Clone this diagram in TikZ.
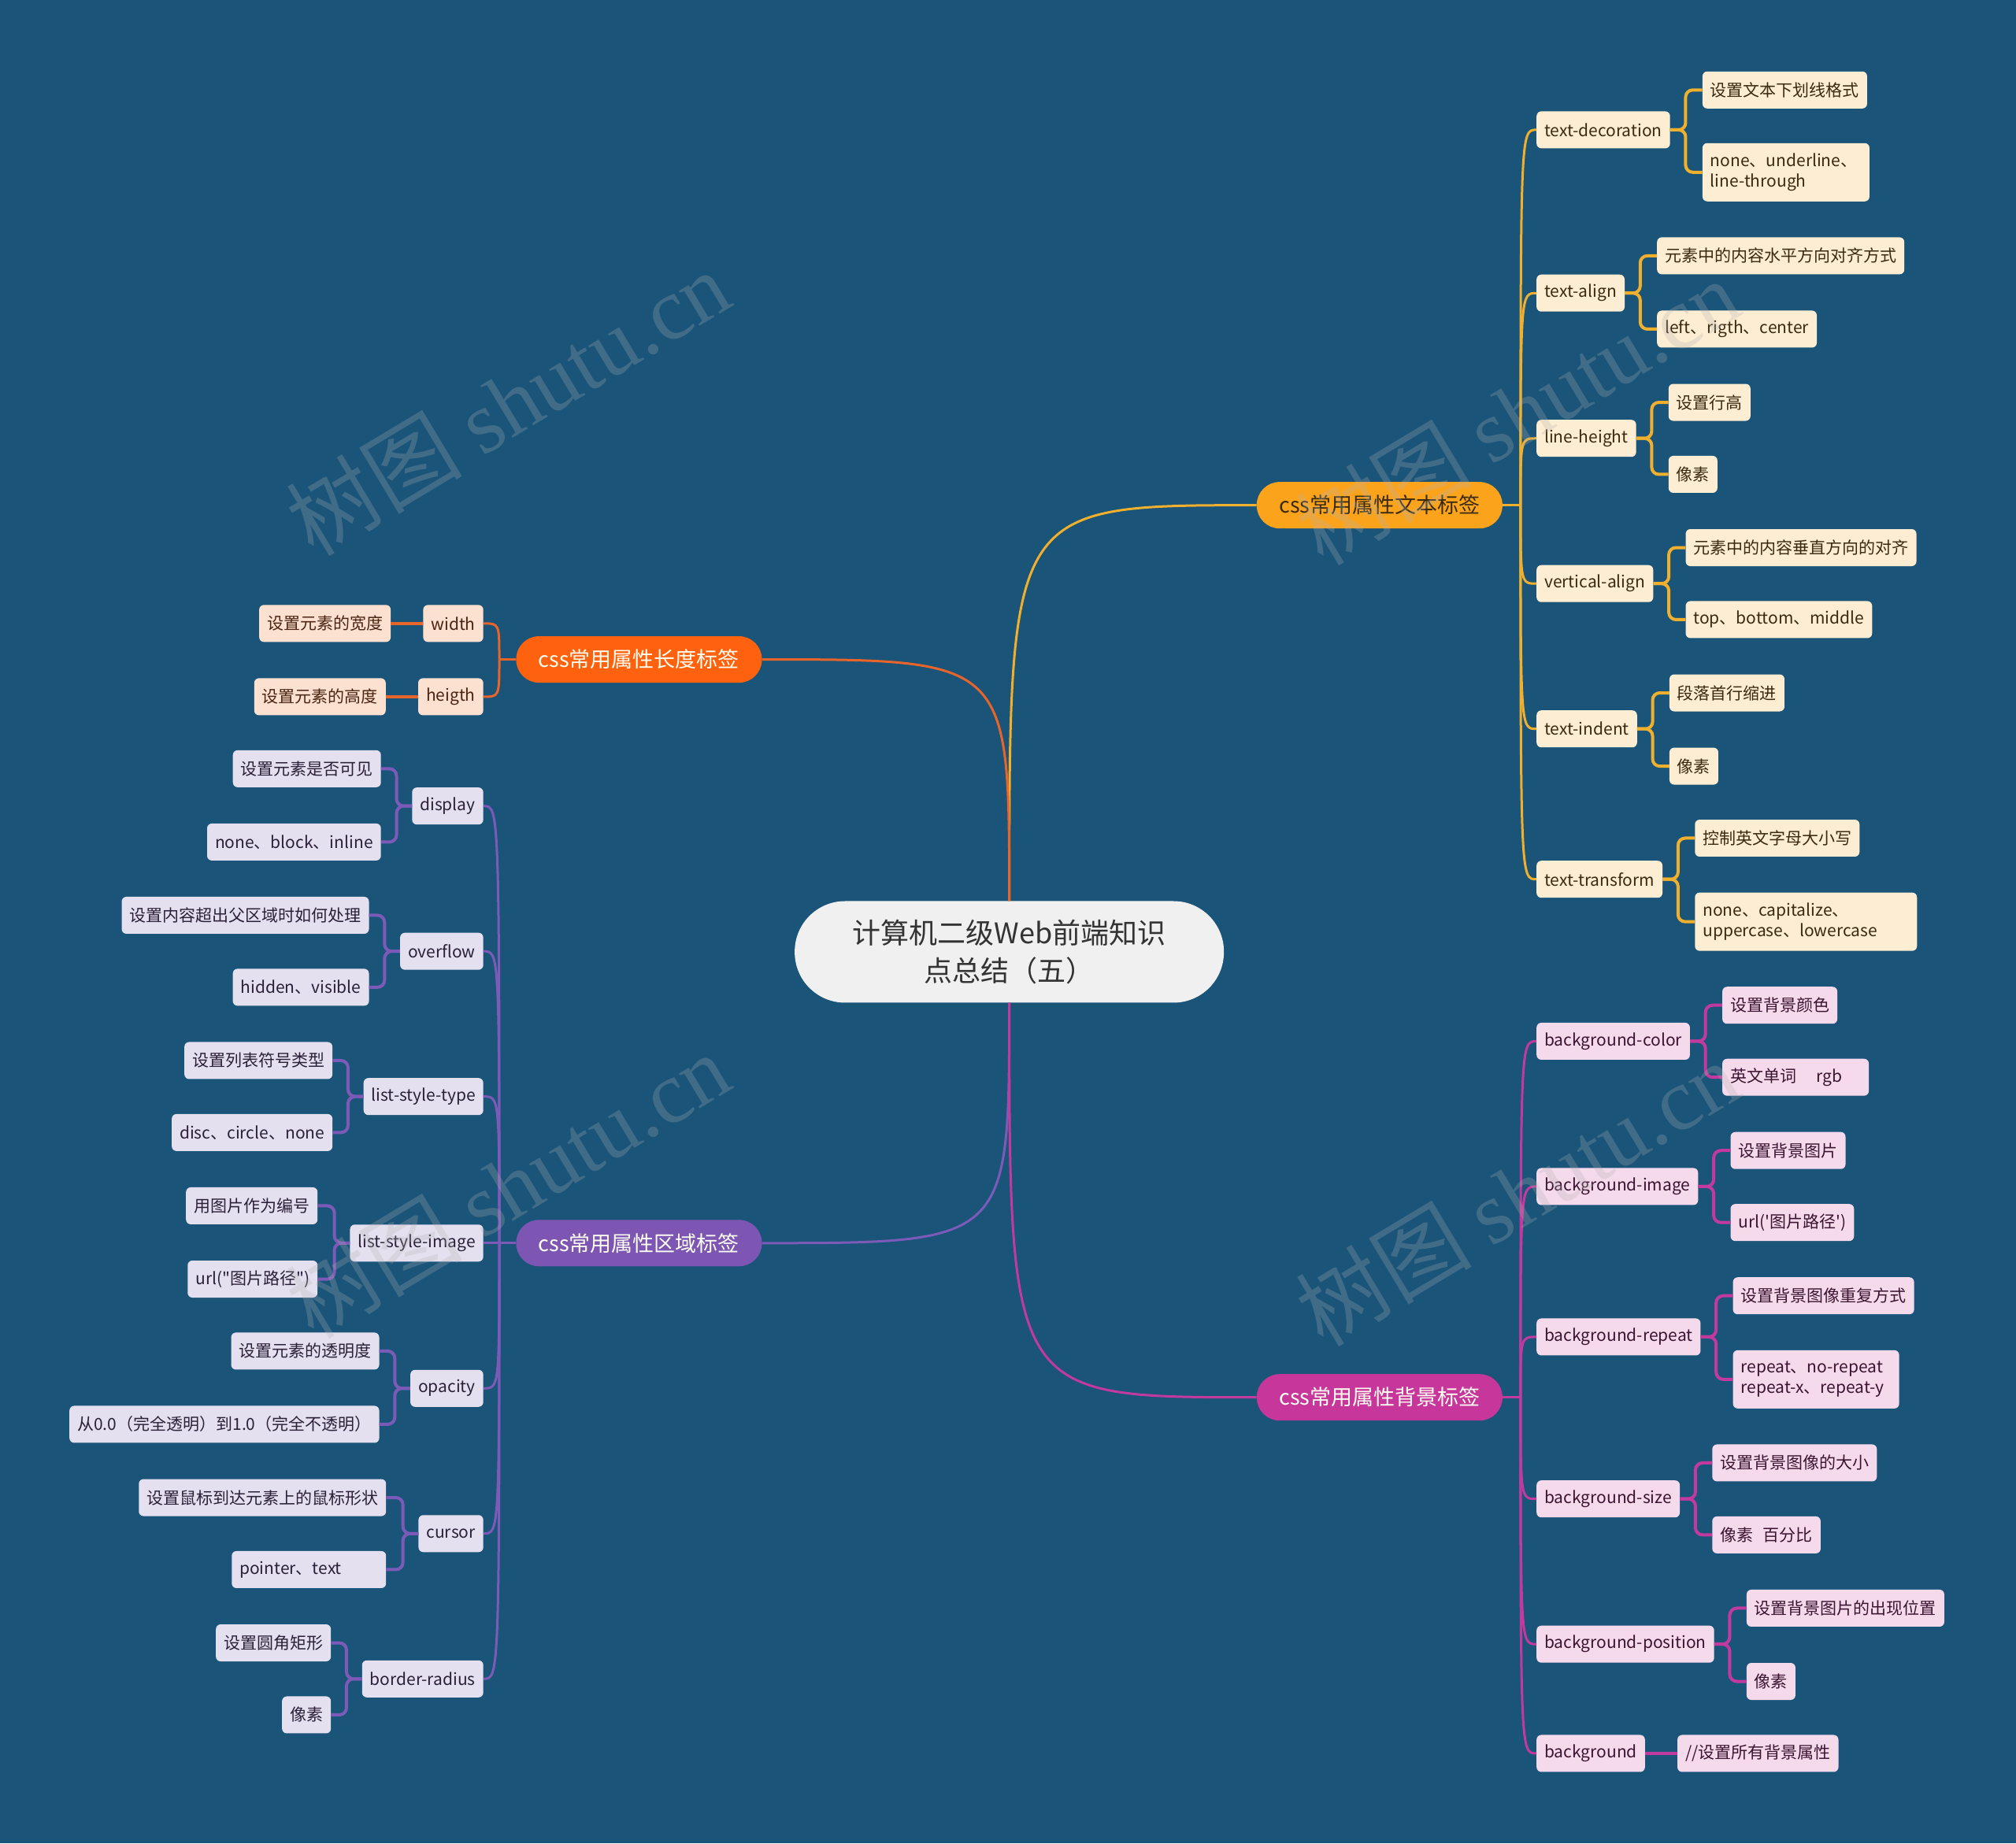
\documentclass[tikz,border=0pt]{standalone}
\usepackage{fontspec}
\setmainfont{Noto Sans CJK SC}[Ligatures=TeXOff]
\newfontfamily\wmserif{Liberation Serif}
\usetikzlibrary{calc}
\definecolor{bg}{RGB}{26,84,121}
\definecolor{yelL}{HTML}{F0B02E}
\definecolor{yelF}{HTML}{FDEDD2}
\definecolor{yelT}{HTML}{3A2A12}
\definecolor{oraL}{HTML}{E8652A}
\definecolor{oraF}{HTML}{FCE0D0}
\definecolor{oraT}{HTML}{4A2512}
\definecolor{purL}{HTML}{7C5BB8}
\definecolor{purF}{HTML}{E5E0F0}
\definecolor{purT}{HTML}{2A2038}
\definecolor{magL}{HTML}{C23A9E}
\definecolor{magF}{HTML}{F5DAEC}
\definecolor{magT}{HTML}{3A1430}
\definecolor{mainY}{HTML}{FBA41B}
\definecolor{mainO}{HTML}{FF620E}
\definecolor{mainP}{HTML}{7D55B3}
\definecolor{mainM}{HTML}{C7379B}
\tikzset{
  box/.style={rounded corners=6pt, inner xsep=10pt, inner ysep=0pt, minimum height=47pt,
    font=\fontsize{21}{26}\selectfont},
  boxtwo/.style={box, align=left, minimum height=74pt},
  yl/.style={box, fill=yelF, text=yelT},
  ol/.style={box, fill=oraF, text=oraT},
  pl/.style={box, fill=purF, text=purT},
  ml/.style={box, fill=magF, text=magT},
  pill/.style={rounded corners=29pt, minimum width=312pt, minimum height=59pt, inner sep=0pt,
    font=\fontsize{27}{32}\selectfont},
  mainlink/.style={line width=3pt},
  trunk/.style={line width=3pt},
  brk/.style={line width=4pt, rounded corners=9pt},
  wm/.style={rotate=31, text=gray!60!white, opacity=0.26, font=\fontsize{112}{120}\selectfont}
}
\begin{document}
\begin{tikzpicture}[x=1.6327pt,y=-1.6327pt]
\fill[bg] (0,0) rectangle (1568,1434);
\useasboundingbox (0,0) rectangle (1568,1434);

% ---------- center ----------
\node[fill=black!6, text=black!80, rounded corners=64pt, minimum width=545pt, minimum height=129pt,
  inner sep=0pt, align=center, font=\fontsize{36}{48}\selectfont] (c) at (785,740.5)
  {计算机二级Web前端知识\\点总结（五）};

% ---------- main branches ----------
\node[pill, fill=mainY, text=yelT] (n1) at (1073,393) {css常用属性文本标签};
\node[pill, fill=mainO, text=white!95!yellow] (n2) at (497,513) {css常用属性长度标签};
\node[pill, fill=mainP, text=white!95!yellow] (n3) at (497,967) {css常用属性区域标签};
\node[pill, fill=mainM, text=white!95!yellow] (n4) at (1073,1087) {css常用属性背景标签};

\draw[mainlink, yelL] (c.north) .. controls (c.north |- n1.west) .. (n1.west);
\draw[mainlink, oraL] (c.north) .. controls (c.north |- n2.east) .. (n2.east);
\draw[mainlink, purL] (c.south) .. controls (c.south |- n3.east) .. (n3.east);
\draw[mainlink, magL] (c.south) .. controls (c.south |- n4.west) .. (n4.west);

% ---------- text branch (right, yellow) ----------
\node[yl, anchor=west] (td) at (1195,101) {text-decoration};
\node[yl, anchor=west] (ta) at (1195,228) {text-align};
\node[yl, anchor=west] (lh) at (1195,341) {line-height};
\node[yl, anchor=west] (va) at (1195,454) {vertical-align};
\node[yl, anchor=west] (ti) at (1195,567) {text-indent};
\node[yl, anchor=west] (tt) at (1195,684) {text-transform};

\node[yl, anchor=west] (td1) at ($(td.east)+(25,-31)$) {设置文本下划线格式};
\node[yl, boxtwo, text width=192pt, anchor=west] (td2) at ($(td.east)+(25,33)$) {none、underline、\\line-through};
\node[yl, anchor=west] (ta1) at ($(ta.east)+(25,-29)$) {元素中的内容水平方向对齐方式};
\node[yl, anchor=west] (ta2) at ($(ta.east)+(25,28)$) {left、rigth、center};
\node[yl, anchor=west] (lh1) at ($(lh.east)+(25,-28)$) {设置行高};
\node[yl, anchor=west] (lh2) at ($(lh.east)+(25,28)$) {像素};
\node[yl, anchor=west] (va1) at ($(va.east)+(25,-28)$) {元素中的内容垂直方向的对齐};
\node[yl, anchor=west] (va2) at ($(va.east)+(25,28)$) {top、bottom、middle};
\node[yl, anchor=west] (ti1) at ($(ti.east)+(25,-28)$) {段落首行缩进};
\node[yl, anchor=west] (ti2) at ($(ti.east)+(25,29)$) {像素};
\node[yl, anchor=west] (tt1) at ($(tt.east)+(25,-32)$) {控制英文字母大小写};
\node[yl, boxtwo, text width=262pt, anchor=west] (tt2) at ($(tt.east)+(25,33)$) {none、capitalize、\\uppercase、lowercase};

\draw[trunk, yelL] (n1.east) -- ++(14,0) coordinate (j1);
\foreach \k in {td,ta,lh,va,ti,tt}{
  \draw[trunk, yelL] (j1) .. controls (j1 |- \k.west) .. (\k.west);
  \draw[brk, yelL] (\k.east) -- ++(12,0) |- (\k1.west);
  \draw[brk, yelL] (\k.east) -- ++(12,0) |- (\k2.west);
}

% ---------- background branch (right, magenta) ----------
\node[ml, anchor=west] (bc) at (1195,810) {background-color};
\node[ml, anchor=west] (bi) at (1195,923) {background-image};
\node[ml, anchor=west] (br) at (1195,1040) {background-repeat};
\node[ml, anchor=west] (bs) at (1195,1166) {background-size};
\node[ml, anchor=west] (bp) at (1195,1279) {background-position};
\node[ml, anchor=west] (bb) at (1195,1364) {background};

\node[ml, anchor=west] (bc1) at ($(bc.east)+(25,-28)$) {设置背景颜色};
\node[ml, anchor=west, text width=166pt, align=left] (bc2) at ($(bc.east)+(25,28)$) {英文单词\hspace{1.2em}rgb};
\node[ml, anchor=west] (bi1) at ($(bi.east)+(25,-28)$) {设置背景图片};
\node[ml, anchor=west] (bi2) at ($(bi.east)+(25,28)$) {url('图片路径')};
\node[ml, anchor=west] (br1) at ($(br.east)+(25,-32)$) {设置背景图像重复方式};
\node[ml, boxtwo, text width=191pt, anchor=west] (br2) at ($(br.east)+(25,33)$) {repeat、no-repeat\\repeat-x、repeat-y};
\node[ml, anchor=west] (bs1) at ($(bs.east)+(25,-28)$) {设置背景图像的大小};
\node[ml, anchor=west] (bs2) at ($(bs.east)+(25,28)$) {像素\hspace{0.6em}百分比};
\node[ml, anchor=west] (bp1) at ($(bp.east)+(25,-28)$) {设置背景图片的出现位置};
\node[ml, anchor=west] (bp2) at ($(bp.east)+(25,29)$) {像素};
\node[ml, anchor=west] (bb1) at ($(bb.east)+(25,0)$) {//设置所有背景属性};

\draw[trunk, magL] (n4.east) -- ++(14,0) coordinate (j4);
\foreach \k in {bc,bi,br,bs,bp,bb}{
  \draw[trunk, magL] (j4) .. controls (j4 |- \k.west) .. (\k.west);
}
\foreach \k in {bc,bi,br,bs,bp}{
  \draw[brk, magL] (\k.east) -- ++(12,0) |- (\k1.west);
  \draw[brk, magL] (\k.east) -- ++(12,0) |- (\k2.west);
}
\draw[brk, magL] (bb.east) -- (bb1.west);

% ---------- length branch (left, orange) ----------
\node[ol, anchor=east] (wd) at (376,485) {width};
\node[ol, anchor=east] (hg) at (376,542) {heigth};
\node[ol, anchor=east] (wd1) at ($(wd.west)+(-25,0)$) {设置元素的宽度};
\node[ol, anchor=east] (hg1) at ($(hg.west)+(-25,0)$) {设置元素的高度};
\draw[trunk, oraL] (n2.west) -- ++(-13,0) coordinate (j2);
\foreach \k in {wd,hg}{
  \draw[trunk, oraL] (j2) .. controls (j2 |- \k.east) .. (\k.east);
  \draw[brk, oraL] (\k.west) -- (\k1.east);
}

% ---------- area branch (left, purple) ----------
\node[pl, anchor=east] (ds) at (376,627) {display};
\node[pl, anchor=east] (ov) at (376,740) {overflow};
\node[pl, anchor=east] (lt) at (376,853) {list-style-type};
\node[pl, anchor=east] (li) at (376,967) {list-style-image};
\node[pl, anchor=east] (op) at (376,1080) {opacity};
\node[pl, anchor=east] (cu) at (376,1193) {cursor};
\node[pl, anchor=east] (bd) at (376,1306) {border-radius};

\node[pl, anchor=east] (ds1) at ($(ds.west)+(-24,-29)$) {设置元素是否可见};
\node[pl, anchor=east] (ds2) at ($(ds.west)+(-24,28)$) {none、block、inline};
\node[pl, anchor=east] (ov1) at ($(ov.west)+(-24,-28)$) {设置内容超出父区域时如何处理};
\node[pl, anchor=east] (ov2) at ($(ov.west)+(-24,28)$) {hidden、visible};
\node[pl, anchor=east] (lt1) at ($(lt.west)+(-24,-28)$) {设置列表符号类型};
\node[pl, anchor=east] (lt2) at ($(lt.west)+(-24,28)$) {disc、circle、none};
\node[pl, anchor=east] (li1) at ($(li.west)+(-25,-29)$) {用图片作为编号};
\node[pl, anchor=east] (li2) at ($(li.west)+(-25,28)$) {url("图片路径")};
\node[pl, anchor=east] (op1) at ($(op.west)+(-24,-29)$) {设置元素的透明度};
\node[pl, anchor=east] (op2) at ($(op.west)+(-24,28)$) {从0.0（完全透明）到1.0（完全不透明）};
\node[pl, anchor=east] (cu1) at ($(cu.west)+(-25,-28)$) {设置鼠标到达元素上的鼠标形状};
\node[pl, anchor=east, text width=176pt, align=left] (cu2) at ($(cu.west)+(-25,28)$) {pointer、text};
\node[pl, anchor=east] (bd1) at ($(bd.west)+(-24,-28)$) {设置圆角矩形};
\node[pl, anchor=east] (bd2) at ($(bd.west)+(-24,28)$) {像素};

\draw[trunk, purL] (n3.west) -- ++(-13,0) coordinate (j3);
\foreach \k in {ds,ov,lt,li,op,cu,bd}{
  \draw[trunk, purL] (j3) .. controls (j3 |- \k.east) .. (\k.east);
  \draw[brk, purL] (\k.west) -- ++(-12,0) |- (\k1.east);
  \draw[brk, purL] (\k.west) -- ++(-12,0) |- (\k2.east);
}

% ---------- watermarks ----------
\node[wm] (w1) at (395,313) {树图 {\wmserif shutu.cn}};
\node[wm] (w2) at (1180,320) {树图 {\wmserif shutu.cn}};
\node[wm] (w3) at (395,922) {树图 {\wmserif shutu.cn}};
\node[wm] (w4) at (1180,928) {树图 {\wmserif shutu.cn}};
\end{tikzpicture}
\end{document}
